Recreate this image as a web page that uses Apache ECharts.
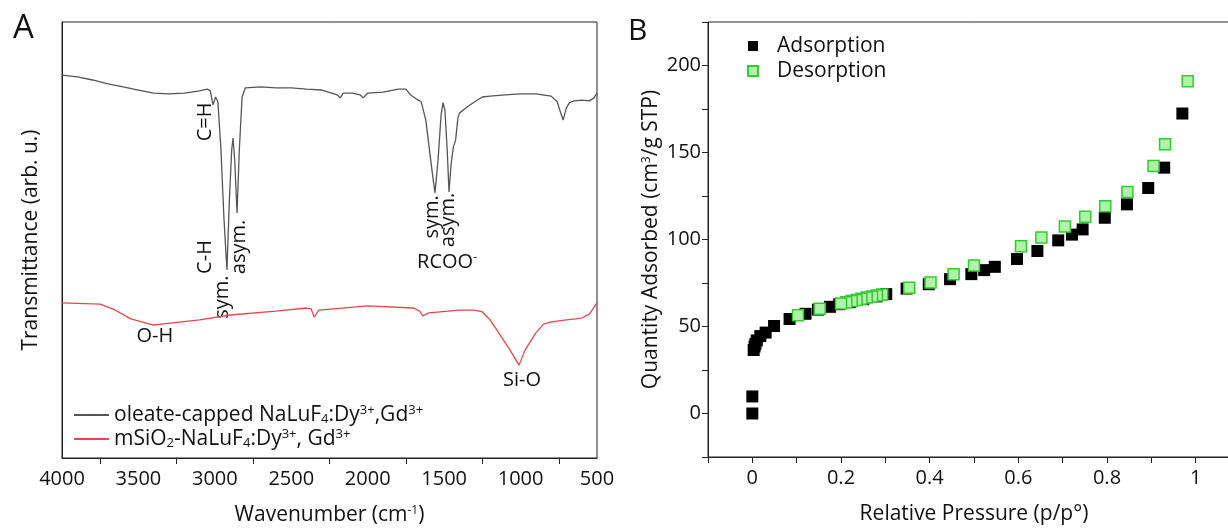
<!DOCTYPE html>
<html>
<head>
<meta charset="utf-8">
<script src="https://cdn.jsdelivr.net/npm/echarts@6/dist/echarts.min.js"></script>
<style>
  html, body { margin: 0; padding: 0; background: #fff; }
  #main { width: 1228px; height: 531px; }
</style>
</head>
<body>
<div id="main"></div>
<script>
// Panel A: FTIR spectra, [wavenumber, transmittance (arb. u.)]
var oleateSpectrum = [
  [4000, 87.8], [3900, 87.4], [3800, 86.7], [3700, 85.8], [3600, 85.1], [3500, 84.4],
  [3400, 83.7], [3300, 83.5], [3200, 83.7], [3100, 84.2], [3050, 84.6], [3030, 84.2],
  [3012, 81.0], [2995, 82.8], [2980, 81.7], [2960, 70.6], [2940, 54.6], [2921, 43.1],
  [2905, 59.2], [2890, 70.6], [2881, 73.4], [2870, 68.3], [2855, 56.2], [2840, 70.6],
  [2822, 82.8], [2800, 84.9], [2700, 85.1], [2600, 84.9], [2500, 84.9], [2400, 84.6],
  [2300, 84.4], [2200, 83.3], [2180, 82.6], [2160, 83.7], [2100, 83.7], [2050, 83.3],
  [2030, 82.6], [2000, 83.7], [1900, 83.9], [1800, 84.6], [1750, 84.6], [1720, 83.3],
  [1700, 82.8], [1680, 82.3], [1650, 81.7], [1620, 77.5], [1600, 71.8], [1580, 66.1],
  [1560, 60.8], [1540, 68.3], [1520, 78.7], [1507, 81.5], [1495, 79.8], [1480, 70.6],
  [1468, 61.0], [1455, 67.2], [1440, 71.3], [1425, 72.9], [1410, 78.0], [1400, 79.1],
  [1350, 80.5], [1300, 81.7], [1250, 82.8], [1200, 83.0], [1100, 83.3], [1000, 83.5],
  [900, 83.5], [800, 83.0], [760, 81.7], [740, 79.4], [722, 77.5], [700, 80.3],
  [680, 81.5], [650, 81.9], [600, 82.1], [550, 81.9], [520, 82.6], [500, 83.7]
];
var silicaSpectrum = [
  [4000, 35.6], [3750, 35.3], [3650, 33.9], [3550, 31.9], [3400, 30.5], [3350, 30.7],
  [3100, 31.7], [2900, 32.8], [2600, 33.7], [2400, 34.4], [2370, 34.2], [2350, 32.3],
  [2320, 33.9], [2000, 34.9], [1700, 34.4], [1660, 33.7], [1640, 32.6], [1600, 33.3],
  [1400, 33.9], [1300, 33.9], [1250, 33.5], [1200, 31.7], [1150, 29.1], [1070, 24.8],
  [1010, 21.3], [970, 24.8], [900, 28.7], [850, 30.7], [800, 31.2], [700, 31.7],
  [600, 32.1], [550, 33.0], [500, 35.6]
];
// peak labels: text, wavenumber, transmittance, rotated
var peakLabels = [
  ['C=H', 3065, 77.1, true], ['C-H', 3065, 46.1, true], ['sym.', 2953, 36.9, true],
  ['asym.', 2842, 48.4, true], ['sym.', 1579, 55.3, true], ['asym.', 1475, 54.6, true],
  ['{t|RCOO}{sup|-}', 1481, 45.0, false], ['O-H', 3392, 27.8, false], ['Si-O', 990, 17.9, false]
];

// Panel B: N2 isotherm, [p/p0, quantity adsorbed]
var adsorption = [
  [0, 0], [0, 9.8], [0.003, 36.5], [0.005, 38.5], [0.007, 40], [0.01, 42], [0.018, 44.5],
  [0.03, 46.5], [0.049, 50.3], [0.084, 54.3], [0.12, 57.3], [0.148, 59.7], [0.175, 61.3],
  [0.196, 62.8], [0.22, 64], [0.25, 65.7], [0.28, 67.3], [0.302, 68.6], [0.348, 71.8],
  [0.398, 74.3], [0.446, 77.2], [0.494, 80.1], [0.523, 82.4], [0.547, 84.3], [0.597, 88.8],
  [0.643, 93.4], [0.69, 99.5], [0.721, 102.8], [0.745, 105.8], [0.795, 112.5], [0.845, 120.2],
  [0.893, 129.6], [0.929, 141.3], [0.97, 172.4]
];
var desorption = [
  [0.982, 191], [0.931, 154.8], [0.905, 142.2], [0.846, 127.3], [0.796, 119.1], [0.751, 113.1],
  [0.705, 107.4], [0.652, 101.2], [0.606, 96.1], [0.5, 85], [0.454, 80.1], [0.402, 75.3],
  [0.354, 72.2], [0.293, 68.4], [0.281, 67.8], [0.27, 67.2], [0.258, 66.6], [0.246, 66],
  [0.235, 65.3], [0.224, 64.6], [0.212, 63.9], [0.2, 63.2], [0.152, 60.2], [0.103, 56.4]
];

var FONT = 'Open Sans';
var TEXT_COLOR = '#111';
var AXIS_COLOR = '#222';
var richText = {
  t: { fontFamily: FONT, fontSize: 21, color: TEXT_COLOR, lineHeight: 22 },
  sub: { fontFamily: FONT, fontSize: 13, color: TEXT_COLOR, lineHeight: 2, verticalAlign: 'bottom' },
  sup: { fontFamily: FONT, fontSize: 13, color: TEXT_COLOR, lineHeight: 15, verticalAlign: 'top' }
};
var nameRich = {
  t: { fontFamily: FONT, fontSize: 21, color: TEXT_COLOR },
  sup: { fontFamily: FONT, fontSize: 12, color: TEXT_COLOR, verticalAlign: 'top', lineHeight: 16 }
};
var legendNames = {
  'oleate-capped NaLuF4:Dy3+,Gd3+': '{t|oleate-capped NaLuF}{sub|4}{t|:Dy}{sup|3+}{t|,Gd}{sup|3+}',
  'mSiO2-NaLuF4:Dy3+, Gd3+': '{t|mSiO}{sub|2}{t|-NaLuF}{sub|4}{t|:Dy}{sup|3+}{t|, Gd}{sup|3+}'
};

var chart = echarts.init(document.getElementById('main'));

var option = {
  animation: false,
  backgroundColor: '#fff',
  title: [
    { text: 'A', left: 8, top: 7, textStyle: { fontFamily: FONT, fontSize: 33, fontWeight: 'normal', color: TEXT_COLOR } },
    { text: 'B', left: 623, top: 11, textStyle: { fontFamily: FONT, fontSize: 30, fontWeight: 'normal', color: TEXT_COLOR } }
  ],
  legend: [{
    orient: 'vertical',
    left: 68, top: 399,
    itemWidth: 35, itemHeight: 2, itemGap: 2,
    data: ['oleate-capped NaLuF4:Dy3+,Gd3+', 'mSiO2-NaLuF4:Dy3+, Gd3+'],
    formatter: function (name) { return legendNames[name]; },
    textStyle: { rich: richText }
  }, {
    orient: 'vertical',
    left: 742, top: 30,
    itemWidth: 10, itemHeight: 10, itemGap: 3,
    data: ['Adsorption', 'Desorption'],
    textStyle: { fontFamily: FONT, fontSize: 21, color: TEXT_COLOR, padding: [0, 0, 0, 14], lineHeight: 22 }
  }],
  grid: [
    { left: 62, top: 22, width: 535, height: 436, show: true, borderColor: AXIS_COLOR, borderWidth: 1, outerBoundsMode: 'none' },
    { left: 708, top: 22, width: 532, height: 435, show: true, borderColor: AXIS_COLOR, borderWidth: 1, outerBoundsMode: 'none' }
  ],
  xAxis: [{
    gridIndex: 0, type: 'value', inverse: true, min: 500, max: 4000, interval: 500,
    name: '{t|Wavenumber (cm}{sup|-1}{t|)}', nameLocation: 'middle', nameGap: 47,
    nameTextStyle: { rich: nameRich },
    axisLine: { lineStyle: { color: AXIS_COLOR } },
    axisTick: { show: false },
    minorTick: { show: true, splitNumber: 2, length: 6, lineStyle: { color: AXIS_COLOR } },
    axisLabel: { fontFamily: FONT, fontSize: 20, color: TEXT_COLOR, margin: 11, formatter: function (v) { return String(v); } },
    splitLine: { show: false }
  }, {
    gridIndex: 1, type: 'value', min: -0.1, max: 1.1, interval: 0.1,
    name: 'Relative Pressure (p/p°)', nameLocation: 'middle', nameGap: 47,
    nameTextStyle: { fontFamily: FONT, fontSize: 21, color: TEXT_COLOR },
    axisLine: { onZero: false, lineStyle: { color: AXIS_COLOR } },
    axisTick: { length: 6, lineStyle: { color: AXIS_COLOR } },
    axisLabel: {
      fontFamily: FONT, fontSize: 20, color: TEXT_COLOR, margin: 11, showMinLabel: true, showMaxLabel: true,
      formatter: function (v) {
        var k = Math.round(v * 10);
        return (k % 2 === 0 && k >= 0 && k <= 10) ? String(k / 10) : '';
      }
    },
    splitLine: { show: false }
  }],
  yAxis: [{
    gridIndex: 0, type: 'value', min: 0, max: 100,
    name: 'Transmittance (arb. u.)', nameLocation: 'middle', nameGap: 20,
    nameTextStyle: { fontFamily: FONT, fontSize: 21, color: TEXT_COLOR },
    axisLine: { show: true, lineStyle: { color: AXIS_COLOR } },
    axisTick: { show: false }, axisLabel: { show: false }, splitLine: { show: false }
  }, {
    gridIndex: 1, type: 'value', min: -25, max: 225, interval: 25,
    name: '{t|Quantity Adsorbed (cm}{sup|3}{t|/g STP)}', nameLocation: 'middle', nameGap: 46,
    nameTextStyle: { rich: nameRich },
    axisLine: { show: true, onZero: false, lineStyle: { color: AXIS_COLOR } },
    axisTick: { length: 6, lineStyle: { color: AXIS_COLOR } },
    axisLabel: {
      fontFamily: FONT, fontSize: 20, color: TEXT_COLOR, margin: 7,
      formatter: function (v) { return (v % 50 === 0 && v >= 0 && v <= 200) ? String(v) : ''; }
    },
    splitLine: { show: false }
  }],
  series: [{
    name: 'oleate-capped NaLuF4:Dy3+,Gd3+', type: 'line', xAxisIndex: 0, yAxisIndex: 0,
    data: oleateSpectrum, symbol: 'none', lineStyle: { color: '#555', width: 1.3 }, itemStyle: { color: '#555' }
  }, {
    name: 'mSiO2-NaLuF4:Dy3+, Gd3+', type: 'line', xAxisIndex: 0, yAxisIndex: 0,
    data: silicaSpectrum, symbol: 'none', lineStyle: { color: '#e3484b', width: 1.3 }, itemStyle: { color: '#e3484b' }
  }, {
    name: 'Adsorption', type: 'scatter', xAxisIndex: 1, yAxisIndex: 1,
    data: adsorption, symbol: 'rect', symbolSize: 12, itemStyle: { color: '#000', opacity: 1 }
  }, {
    name: 'Desorption', type: 'scatter', xAxisIndex: 1, yAxisIndex: 1,
    data: desorption, symbol: 'rect', symbolSize: 11,
    itemStyle: { color: '#b0f2a8', borderColor: '#30cc30', borderWidth: 1.5, opacity: 1 }
  }]
};

chart.setOption(option);

// peak annotations placed through the spectrum axes
var graphics = peakLabels.map(function (p) {
  var pos = chart.convertToPixel({ gridIndex: 0 }, [p[1], p[2]]);
  return {
    type: 'text', x: pos[0], y: pos[1], rotation: p[3] ? Math.PI / 2 : 0,
    style: {
      text: p[0], fontFamily: FONT, fontSize: 20, fill: TEXT_COLOR, align: 'center', verticalAlign: 'middle',
      rich: { t: { fontFamily: FONT, fontSize: 20, fill: TEXT_COLOR }, sup: { fontFamily: FONT, fontSize: 12, fill: TEXT_COLOR, verticalAlign: 'top', lineHeight: 14 } }
    }
  };
});
chart.setOption({ graphic: graphics });
</script>
</body>
</html>
